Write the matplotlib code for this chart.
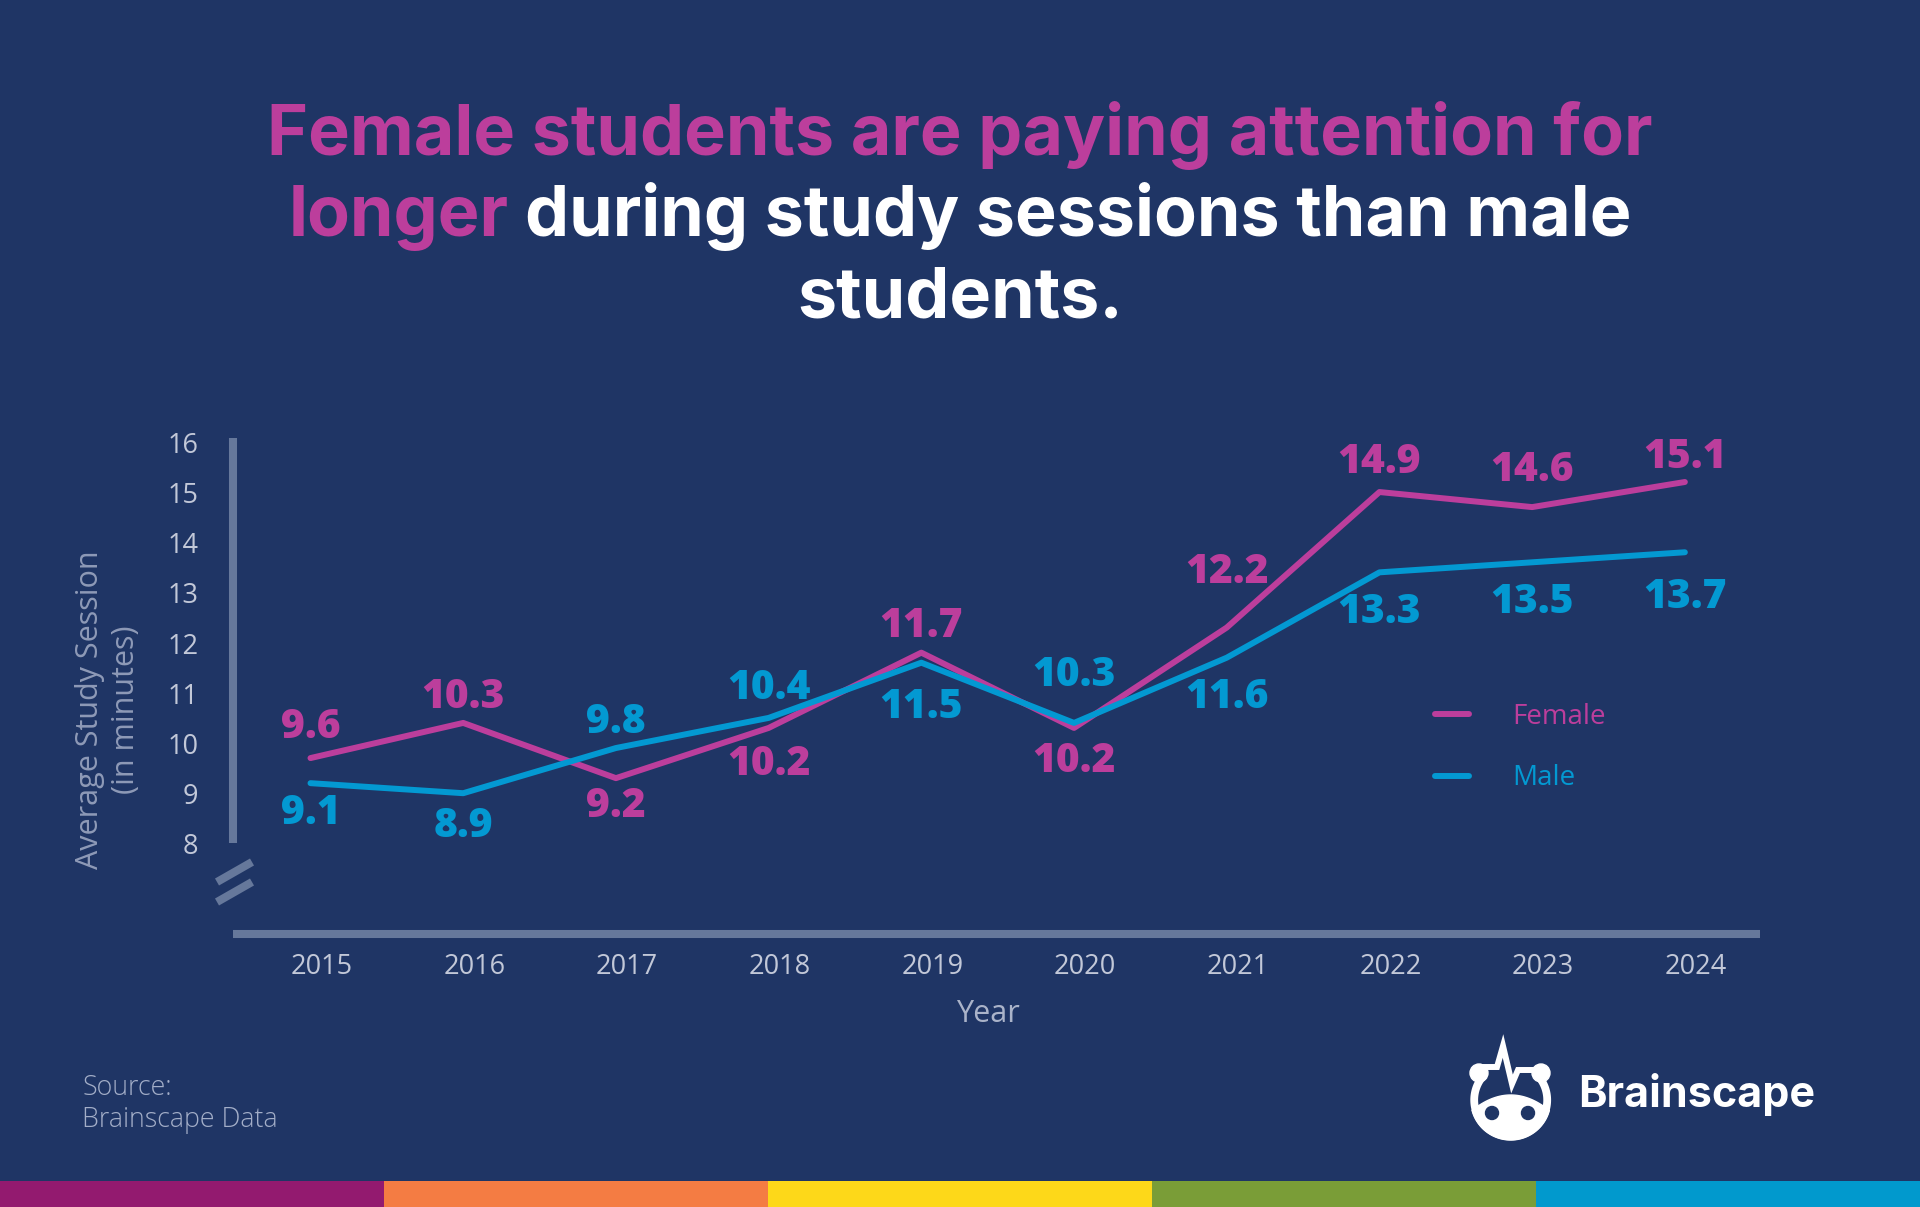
import matplotlib
matplotlib.use('Agg')
import matplotlib.pyplot as plt
import matplotlib.transforms as mtransforms
from matplotlib.patches import Rectangle, Circle, Polygon
import numpy as np

plt.rcParams['font.family'] = ['Open Sans', 'DejaVu Sans']

# data
years = [2015, 2016, 2017, 2018, 2019, 2020, 2021, 2022, 2023, 2024]
female = [9.6, 10.3, 9.2, 10.2, 11.7, 10.2, 12.2, 14.9, 14.6, 15.1]
male = [9.1, 8.9, 9.8, 10.4, 11.5, 10.3, 11.6, 13.3, 13.5, 13.7]
y_ticks = [8, 9, 10, 11, 12, 13, 14, 15, 16]

# where the value labels sit relative to the point (pixels, + is up)
female_dy = [35, 29, -24, -33, 30, -30, 59, 34, 41, 29]
male_dy = [-26, -29, 30, 33, -41, 51, -36, -36, -36, -41]

BG = '#1f3565'
PINK = '#bc3e9c'
BLUE = '#0399d2'
AXIS = '#66789b'
TICK = '#c2c8d8'
LABEL = '#8e9ab7'
bar_colors = ['#931a6f', '#f47c43', '#fdd819', '#7a9d37', '#0199cd']

W, H = 1920, 1207
fig = plt.figure(figsize=(W / 100, H / 100), dpi=100, facecolor=BG)

# overlay in pixel coordinates for the decorations
deco = fig.add_axes([0, 0, 1, 1], zorder=0)
deco.set_xlim(0, W)
deco.set_ylim(H, 0)
deco.axis('off')
deco.patch.set_alpha(0)

ax = fig.add_axes([233 / W, (H - 934) / H, 1527 / W, (934 - 431.8) / H], zorder=1)
ax.patch.set_alpha(0)
ax.set_xlim(2014.4925, 2024.492)
ax.set_ylim(6.095, 16.1)

ax.plot(years, female, color=PINK, lw=4.3, solid_capstyle='round', solid_joinstyle='round', label='Female')
ax.plot(years, male, color=BLUE, lw=4.3, solid_capstyle='round', solid_joinstyle='round', label='Male')

lab_size = 29.3
half_cap = 0.714 * lab_size * 100 / 72 / 2
for yr, v, dy in zip(years, female, female_dy):
    ax.annotate(f'{v:.1f}', (yr, v), xytext=(0, dy - half_cap), textcoords='offset pixels',
                ha='center', va='baseline', fontsize=lab_size, fontweight=800, color=PINK)
for yr, v, dy in zip(years, male, male_dy):
    ax.annotate(f'{v:.1f}', (yr, v), xytext=(0, dy - half_cap), textcoords='offset pixels',
                ha='center', va='baseline', fontsize=lab_size, fontweight=800, color=BLUE)

# axes styling
for s in ['top', 'right']:
    ax.spines[s].set_visible(False)
for s in ['left', 'bottom']:
    ax.spines[s].set_color(AXIS)
    ax.spines[s].set_linewidth(5.8)
    ax.spines[s].set_capstyle('butt')
ax.spines['left'].set_bounds(7.91, 15.98)

ax.set_yticks(y_ticks)
ax.set_yticklabels([str(t) for t in y_ticks])
ax.set_xticks(years)
ax.set_xticklabels([str(y) for y in years])
ax.tick_params(axis='y', length=0, pad=25, labelsize=19.5, labelcolor=TICK)
ax.tick_params(axis='x', length=0, pad=13.5, labelsize=19.5, labelcolor=TICK)
shift_x = mtransforms.ScaledTranslation(11 / 100, 0, fig.dpi_scale_trans)
for lab in ax.get_xticklabels():
    lab.set_transform(lab.get_transform() + shift_x)
shift_y = mtransforms.ScaledTranslation(0, -5.5 / 100, fig.dpi_scale_trans)
for lab in ax.get_yticklabels():
    lab.set_transform(lab.get_transform() + shift_y)

ax.set_ylabel('Average Study Session\n(in minutes)', fontsize=22, color=LABEL,
              ha='center', va='center', linespacing=1.3)
ax.yaxis.set_label_coords((108 - 233) / 1527, (934 - 710) / 502.2)
ax.set_xlabel('Year', fontsize=22, color='#aab3c9', ha='center', va='center')
ax.xaxis.set_label_coords((988 - 233) / 1527, (934 - 1014) / 502.2)

leg = ax.legend(loc='upper left', bbox_to_anchor=(1435 / W, 1 - 703 / H), bbox_transform=fig.transFigure,
                frameon=False, fontsize=20, handlelength=1.22, handletextpad=1.55, labelspacing=1.2,
                borderpad=0, borderaxespad=0, labelcolor='linecolor')

# axis break marks
for yc in [872, 892]:
    deco.plot([217, 252], [yc + 10, yc - 10], color=AXIS, lw=5.8, solid_capstyle='butt')

# title, mixed colours
renderer = fig.canvas.get_renderer()
tkw = dict(fontsize=50.4, fontweight='bold', family=['Inter', 'DejaVu Sans'], va='baseline')


def title_line(y, left_txt, left_col, right_txt, right_col):
    full = left_txt + (' ' if left_txt and right_txt else '') + right_txt
    t = deco.text(W / 2, y, full, ha='center', alpha=0, **tkw)
    bb = t.get_window_extent(renderer)
    if left_txt:
        deco.text(bb.x0, y, left_txt, ha='left', color=left_col, **tkw)
    if right_txt:
        deco.text(bb.x1, y, right_txt, ha='right', color=right_col, **tkw)


title_line(155.5, 'Female students are paying attention for', PINK, '', 'white')
title_line(236, 'longer', PINK, 'during study sessions than male', 'white')
title_line(317, '', PINK, 'students.', 'white')

# source
deco.text(82, 1095, 'Source:', fontsize=19.3, fontweight='light', color='#a3aec8', va='baseline')
deco.text(82, 1127, 'Brainscape Data', fontsize=19.3, fontweight='light', color='#a3aec8', va='baseline')

# logo
cx, cy = 1510.7, 1100
t = np.radians(np.linspace(42, -220, 120))
deco.plot(cx + 36.5 * np.cos(t), cy - 36.5 * np.sin(t), color='white', lw=5.6, solid_capstyle='round')
deco.add_patch(Circle((1479, 1073), 9, color='white'))
deco.add_patch(Circle((1541, 1073), 9, color='white'))
deco.plot([1483, 1497, 1503, 1512, 1518, 1537], [1067, 1067, 1046, 1084, 1070, 1070],
          color='white', lw=4.3, solid_joinstyle='miter')
xr = np.linspace(-38, 38, 60)
dome = np.column_stack([cx + xr, cy + 10 - 15 * (1 - (xr / 38) ** 2)])
ta = np.radians(np.linspace(-14.5, -165.5, 60))
arc = np.column_stack([cx + 40 * np.cos(ta), cy - 40 * np.sin(ta)])
deco.add_patch(Polygon(np.vstack([dome, arc]), closed=True, color='white'))
deco.add_patch(Circle((1492, 1113), 6.5, color=BG))
deco.add_patch(Circle((1528, 1113), 6.5, color=BG))
deco.text(1578, 1107, 'Brainscape', fontsize=31, fontweight='bold', family=['Inter', 'DejaVu Sans'],
          color='white', va='baseline', ha='left')

# colour strip at the bottom
for i, c in enumerate(bar_colors):
    deco.add_patch(Rectangle((i * W / 5, 1181), W / 5, H - 1181, color=c, lw=0))

fig.savefig('out.png', dpi=100, facecolor=BG)
